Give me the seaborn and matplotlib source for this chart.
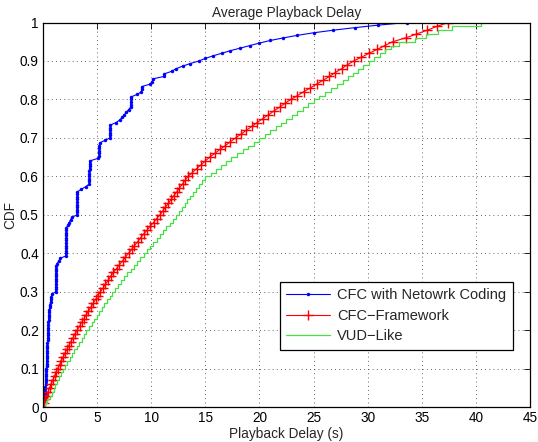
import numpy as np
import pandas as pd
import seaborn as sns
import matplotlib
matplotlib.use("Agg")
import matplotlib.pyplot as plt

# sorted playback delays (s)
nc_delay = [0.10, 0.12, 0.14, 0.15, 0.17, 0.19, 0.20, 0.22,
            0.24, 0.25, 0.26, 0.28, 0.29, 0.30, 0.31, 0.32, 0.33, 0.34, 0.35, 0.36, 0.37, 0.38, 0.39, 0.40,
            0.41, 0.42, 0.43, 0.44, 0.45, 0.46, 0.47, 0.48, 0.50, 0.52, 0.53, 0.55, 0.57, 0.58,
            0.61, 0.65, 0.69, 0.73, 0.77, 0.80,
            1.17, 1.17, 1.17, 1.18, 1.18, 1.18, 1.18, 1.19, 1.19, 1.19, 1.20,
            1.30, 1.45, 1.57,
            2.13, 2.13, 2.13, 2.14, 2.14, 2.14, 2.14, 2.14, 2.15, 2.15, 2.15, 2.15,
            2.30, 2.42, 2.55, 2.65,
            3.15, 3.15, 3.16, 3.16, 3.16, 3.17, 3.17, 3.17, 3.18, 3.18,
            3.55, 3.95, 4.28,
            4.28, 4.28, 4.29, 4.29, 4.29, 4.30, 4.30, 4.30, 4.31,
            5.05,
            5.20, 5.20, 5.21, 5.21, 5.21, 5.22,
            5.70, 6.19,
            6.20, 6.20, 6.21, 6.21, 6.22,
            6.75, 7.10,
            7.30, 7.50, 7.70, 7.90, 8.10,
            8.11, 8.12, 8.13, 8.15,
            8.70, 9.10, 9.11, 9.12,
            9.90, 10.10, 10.12,
            11.20, 11.22, 11.90, 12.30, 12.90, 13.60, 14.40, 15.00, 15.70, 16.50,
            17.30, 18.20, 19.10, 20.00, 21.00, 22.20, 23.50, 25.00, 26.80, 28.80,
            31.00, 33.60]

cfc_delay = [0.10, 0.22, 0.36, 0.47, 0.60, 0.76, 0.89, 1.06, 1.19, 1.35,
             1.53, 1.67, 1.86, 2.01, 2.20, 2.39, 2.56, 2.77, 2.94, 3.15,
             3.37, 3.56, 3.79, 3.98, 4.20, 4.43, 4.63, 4.87, 5.07, 5.30,
             5.55, 5.77, 6.03, 6.25, 6.50, 6.79, 7.05, 7.35, 7.61, 7.90,
             8.19, 8.45, 8.75, 9.01, 9.30, 9.61, 9.89, 10.21, 10.49, 10.80,
             11.07, 11.31, 11.59, 11.83, 12.10, 12.37, 12.61, 12.89, 13.13, 13.40,
             13.81, 14.19, 14.61, 14.99, 15.40, 15.89, 16.35, 16.85, 17.31, 17.80,
             18.31, 18.79, 19.31, 19.79, 20.30, 20.83, 21.33, 21.87, 22.37, 22.90,
             23.51, 24.09, 24.71, 25.29, 25.90, 26.47, 27.01, 27.59, 28.13, 28.70,
             29.43, 30.13, 30.87, 31.57, 32.30, 33.50, 34.50, 35.50, 36.40, 37.40]

vud_delay = [0.20, 0.40, 0.60, 0.80, 1.00, 1.15, 1.30, 1.45, 1.62, 1.80,
             2.02, 2.24, 2.46, 2.68, 2.90, 3.12, 3.34, 3.56, 3.78, 4.00,
             4.24, 4.48, 4.72, 4.96, 5.20, 5.44, 5.68, 5.92, 6.16, 6.40,
             6.68, 6.96, 7.24, 7.52, 7.80, 8.10, 8.40, 8.70, 9.00, 9.30,
             9.60, 9.90, 10.20, 10.50, 10.80, 11.10, 11.40, 11.70, 12.00, 12.30,
             12.56, 12.82, 13.08, 13.34, 13.60, 13.88, 14.16, 14.44, 14.72, 15.00,
             15.48, 15.96, 16.44, 16.92, 17.40, 17.92, 18.44, 18.96, 19.48, 20.00,
             20.50, 21.00, 21.50, 22.00, 22.50, 23.00, 23.50, 24.00, 24.50, 25.00,
             25.55, 26.10, 26.65, 27.20, 27.75, 28.20, 28.65, 29.10, 29.55, 30.10,
             30.60, 31.10, 31.60, 32.20, 32.90, 34.40, 35.40, 36.50, 37.80, 40.50]

x_ticks = [0, 5, 10, 15, 20, 25, 30, 35, 40, 45]
y_ticks = [0, 0.1, 0.2, 0.3, 0.4, 0.5, 0.6, 0.7, 0.8, 0.9, 1]
y_labels = ["0", "0.1", "0.2", "0.3", "0.4", "0.5", "0.6", "0.7", "0.8", "0.9", "1"]


def ecdf_frame(delays):
    # empirical CDF, starting from zero at the first sample
    x = np.sort(np.asarray(delays))
    f = np.arange(1, len(x) + 1) / len(x)
    return pd.DataFrame({"delay": np.r_[x[0], x], "cdf": np.r_[0.0, f]})


sns.set_style("white")
plt.rcParams["font.family"] = ["Liberation Sans", "DejaVu Sans"]

fig = plt.figure(figsize=(5.38, 4.42), dpi=100)
ax = fig.add_axes([0.080, 0.079, 0.905, 0.870])

sns.lineplot(data=ecdf_frame(nc_delay), x="delay", y="cdf", estimator=None, sort=False,
             color="#0000ff", lw=0.8, marker=".", markersize=5, markeredgewidth=0,
             label="CFC with Netowrk Coding", ax=ax)
sns.lineplot(data=ecdf_frame(cfc_delay), x="delay", y="cdf", estimator=None, sort=False,
             color="#ff0000", lw=0.8, marker="+", markersize=7,
             markeredgewidth=1.0, markeredgecolor="#ff0000",
             label="CFC\u2212Framework", ax=ax)
sns.lineplot(data=ecdf_frame(vud_delay), x="delay", y="cdf", estimator=None, sort=False,
             color="#44e044", lw=0.9, drawstyle="steps-post",
             label="VUD\u2212Like", ax=ax)

ax.set_xlim(0, 45)
ax.set_ylim(0, 1)
ax.set_xticks(x_ticks)
ax.set_yticks(y_ticks)
ax.set_yticklabels(y_labels)
ax.tick_params(direction="in", length=4, width=0.6, top=True, right=True,
               labelsize=9.8, pad=3, colors="black")
ax.grid(True, linestyle=(0, (1, 4)), color="black", lw=0.6, alpha=0.8)
for s in ax.spines.values():
    s.set_visible(True)
    s.set_color("black")
    s.set_linewidth(0.9)

ax.set_title("Average Playback Delay", fontsize=9.8, pad=4)
ax.set_xlabel("Playback Delay (s)", fontsize=9.8, labelpad=1)
ax.set_ylabel("CDF", fontsize=9.8, labelpad=2)

leg = ax.legend(loc="lower right", bbox_to_anchor=(0.98, 0.13), fontsize=10.5,
                frameon=True, fancybox=False, framealpha=1, edgecolor="black",
                handlelength=3.0, handletextpad=0.5, borderpad=0.45, labelspacing=0.45)
leg.get_frame().set_linewidth(0.9)

fig.savefig("out.png", dpi=100)
